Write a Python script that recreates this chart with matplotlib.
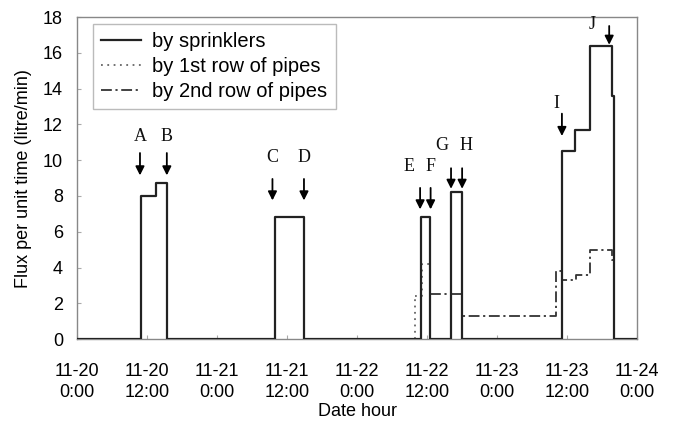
import matplotlib
matplotlib.use("Agg")
import matplotlib.pyplot as plt

# hours since 11-20 0:00
spr_t = [0, 10.9, 13.5, 15.5, 33.9, 38.9, 58.9, 60.5, 64.1, 65.9, 83.1, 85.4, 87.9, 91.7, 92.1, 96]
spr_v = [0, 8.0, 8.7, 0, 6.8, 0, 6.8, 0, 8.2, 0, 10.5, 11.7, 16.4, 13.6, 0, 0]

row1_t = [57.9, 59.2, 60.5]
row1_v = [2.4, 4.2, 0]

row2_t = [60.5, 65.9, 82.1, 83.1, 85.5, 87.9, 91.7, 92.1]
row2_v = [2.5, 1.3, 3.8, 3.3, 3.6, 5.0, 4.4, 0]

tick_hours = [0, 12, 24, 36, 48, 60, 72, 84, 96]
tick_labels = ["11-20\n0:00", "11-20\n12:00", "11-21\n0:00", "11-21\n12:00", "11-22\n0:00",
               "11-22\n12:00", "11-23\n0:00", "11-23\n12:00", "11-24\n0:00"]

# event markers: label, arrow x, arrow top, arrow bottom, label x, label y
ev_names = ["A", "B", "C", "D", "E", "F", "G", "H", "I", "J"]
ev_x = [10.8, 15.4, 33.5, 38.9, 58.8, 60.6, 64.1, 66.0, 83.1, 91.2]
ev_top = [10.4, 10.4, 8.95, 8.95, 8.45, 8.45, 9.55, 9.55, 12.6, 17.5]
ev_bot = [9.15, 9.15, 7.75, 7.75, 7.25, 7.25, 8.4, 8.4, 11.35, 16.45]
ev_lx = [10.8, 15.4, 33.5, 38.9, 56.9, 60.5, 62.5, 66.6, 82.1, 88.3]
ev_ly = [10.85, 10.85, 9.65, 9.65, 9.15, 9.15, 10.35, 10.35, 12.7, 17.1]

FS = 13

fig = plt.figure(figsize=(6.75, 4.26), dpi=100)
ax = fig.add_axes([0.114, 0.204, 0.83, 0.756])

ax.step(spr_t, spr_v, where='post', color='#222222', lw=1.6, label='by sprinklers', zorder=3)
ax.step(row1_t, row1_v, where='post', color='#666666', lw=1.3, ls=(0, (1, 2.5)),
        label='by 1st row of pipes', zorder=2)
ax.plot([row1_t[0], row1_t[0]], [0, row1_v[0]], color='#666666', lw=1.3, ls=(0, (1, 2.5)), zorder=2)
ax.step(row2_t, row2_v, where='post', color='#333333', lw=1.3, ls=(0, (6, 2, 1.2, 2)),
        label='by 2nd row of pipes', zorder=2)

for n, x, t, b, lx, ly in zip(ev_names, ev_x, ev_top, ev_bot, ev_lx, ev_ly):
    ax.annotate('', xy=(x, b), xytext=(x, t),
                arrowprops=dict(arrowstyle='-|>', color='black', lw=1.3,
                                mutation_scale=13, shrinkA=0, shrinkB=0))
    ax.text(lx, ly, n, ha='center', va='bottom', fontsize=13,
            family='Liberation Serif', color='#111111')

ax.set_xlim(0, 96)
ax.set_ylim(0, 18)
ax.set_xticks(tick_hours)
ax.set_xticklabels(tick_labels, family='Liberation Sans', fontsize=FS, linespacing=1.35)
ax.set_yticks(range(0, 19, 2))
ax.set_yticklabels([str(v) for v in range(0, 19, 2)], family='Liberation Sans', fontsize=FS)
ax.tick_params(direction='in', length=3, color='#aaaaaa')
ax.tick_params(axis='y', pad=10)
ax.tick_params(axis='x', pad=17)
for s in ax.spines.values():
    s.set_color('#888888')
    s.set_linewidth(1.0)

ax.set_xlabel('Date hour', family='Liberation Sans', fontsize=FS, labelpad=1)
ax.set_ylabel('Flux per unit time (litre/min)', family='Liberation Sans', fontsize=FS, labelpad=8)

leg = ax.legend(loc='upper left', bbox_to_anchor=(0.0286, 0.978), borderaxespad=0,
                frameon=True, fancybox=False,
                edgecolor='#aaaaaa', handlelength=2.0, handletextpad=0.55, borderpad=0.4,
                labelspacing=0.3, prop={'family': 'Liberation Sans', 'size': 14.5})
leg.get_frame().set_linewidth(1.0)

fig.savefig('out.png', dpi=100)
